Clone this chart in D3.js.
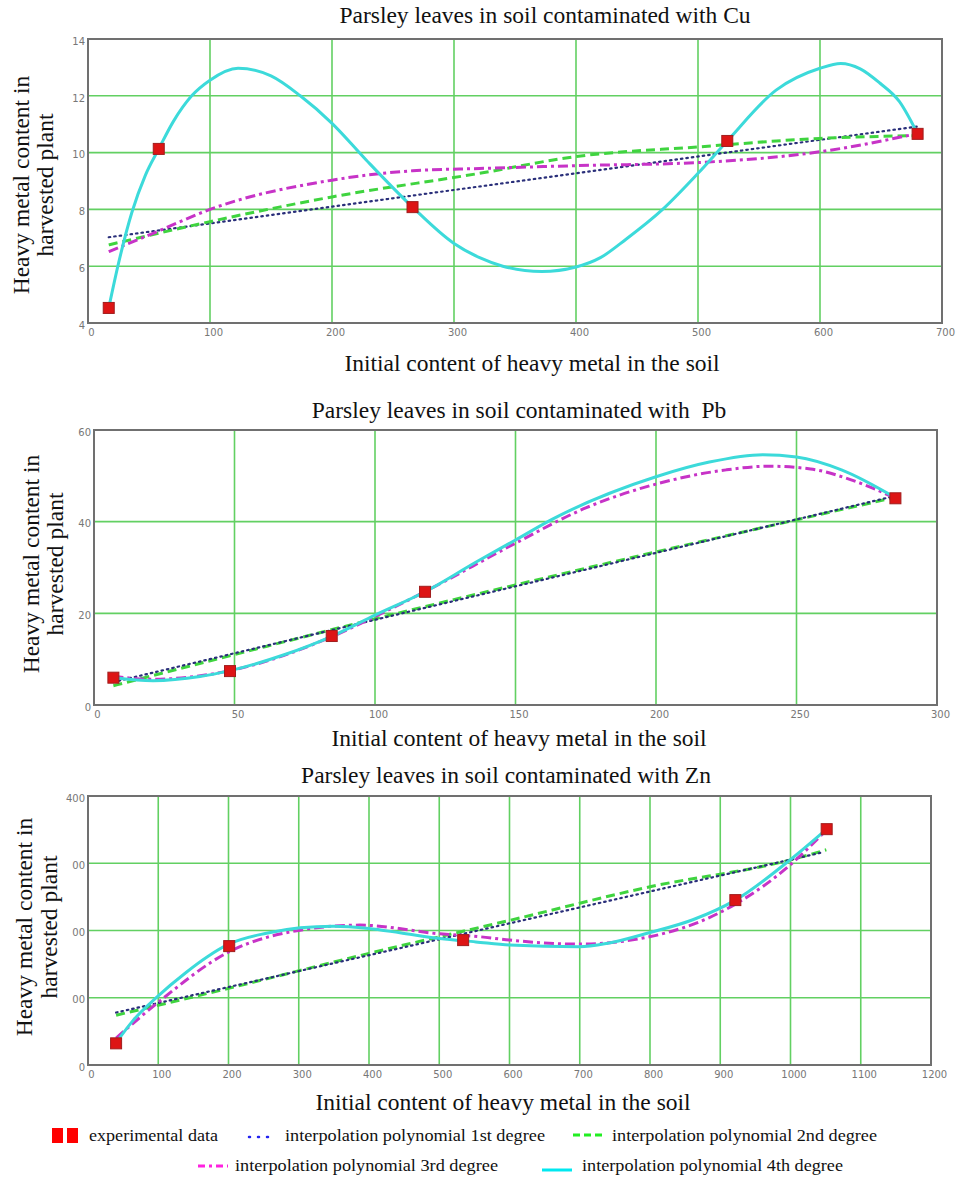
<!DOCTYPE html>
<html>
<head>
<meta charset="utf-8">
<script src="https://cdn.jsdelivr.net/npm/d3@7"></script>
<style>
  html, body { margin: 0; padding: 0; background: #fff; }
  svg { display: block; }
  .serif { font-family: "Liberation Serif", "Times New Roman", serif; fill: #111; }
  .tick text { font-family: "DejaVu Sans", Verdana, sans-serif; font-size: 10px; fill: #777; }
</style>
</head>
<body>
<svg id="chart" width="956" height="1178"></svg>
<script>
// ---------------- DATA ----------------
// Panel 1: Cu
const cuTitle = "Parsley leaves in soil contaminated with Cu";
const cuXTicks = [0, 100, 200, 300, 400, 500, 600, 700];
const cuYTicks = [4, 6, 8, 10, 12, 14];
const cuExpX = [17, 58, 266, 524, 680];
const cuExpY = [4.53, 10.13, 8.08, 10.41, 10.66];
const cuP1X = [17, 680];
const cuP1Y = [7.02, 10.92];
const cuP2X = [17, 100, 200, 321, 400, 500, 600, 680];
const cuP2Y = [6.75, 7.57, 8.44, 9.27, 9.86, 10.2, 10.5, 10.6];
const cuP3X = [17, 59, 100, 200, 266, 321, 400, 500, 600, 680];
const cuP3Y = [6.51, 7.26, 8.0, 9.03, 9.36, 9.44, 9.54, 9.65, 10.03, 10.67];
const cuP4X = [17, 25, 36, 47, 58, 70, 85, 100, 123, 150, 174, 200, 228, 266, 300, 321, 340, 372, 400, 420, 441, 471, 500, 524, 564, 600, 617, 633, 649, 665, 680];
const cuP4Y = [4.53, 6.1, 7.9, 9.2, 10.13, 11.1, 12.0, 12.55, 12.97, 12.7, 12.0, 11.03, 9.74, 8.08, 6.8, 6.3, 6.0, 5.81, 5.97, 6.3, 6.95, 8.0, 9.27, 10.41, 12.2, 12.97, 13.14, 12.95, 12.45, 11.8, 10.66];

// Panel 2: Pb
const pbTitle = "Parsley leaves in soil contaminated with  Pb";
const pbXTicks = [0, 50, 100, 150, 200, 250, 300];
const pbYTicks = [0, 20, 40, 60];
const pbExpX = [6.9, 48.4, 84.6, 117.8, 285.2];
const pbExpY = [5.96, 7.4, 15.05, 24.7, 45.1];
const pbP1X = [6.9, 285];
const pbP1Y = [5.0, 45.6];
const pbP2X = [6.9, 50, 100, 150, 200, 250, 285];
const pbP2Y = [4.2, 11.0, 18.8, 26.2, 33.4, 40.4, 45.3];
const pbP3X = [6.9, 20, 48.4, 85, 100, 118, 150, 175, 200, 225, 240, 255, 270, 285];
const pbP3Y = [6.3, 5.6, 7.5, 15.0, 19.3, 24.8, 35.3, 43.0, 48.2, 51.3, 52.1, 51.5, 49.0, 45.2];
const pbP4X = [6.9, 21, 37.7, 48.4, 67.4, 85, 100, 117.8, 136, 150, 163, 200, 219, 238, 250, 266, 285];
const pbP4Y = [6.0, 5.3, 6.2, 7.5, 10.9, 15.1, 19.6, 24.7, 31.2, 36.0, 40.5, 49.8, 53.0, 54.6, 54.1, 51.3, 45.3];

// Panel 3: Zn
const znTitle = "Parsley leaves in soil contaminated with Zn";
const znXTicks = [0, 100, 200, 300, 400, 500, 600, 700, 800, 900, 1000, 1100, 1200];
const znYTicks = [0, 100, 200, 300, 400];
const znYTickLabels = ["0", "00", "00", "00", "400"];
const znExpX = [40, 201, 534, 921.5, 1051.5];
const znExpY = [32.2, 176.8, 185.7, 245.2, 350.7];
const znP1X = [40, 1045];
const znP1Y = [78, 316];
const znP2X = [40, 200, 400, 600, 800, 1000, 1051];
const znP2Y = [74, 114, 166, 215, 265, 305, 320];
const znP3X = [40, 98, 201, 302, 387, 501, 558, 600, 699, 799, 921.5, 999, 1046];
const znP3Y = [40, 91.6, 168.4, 200.5, 208, 195, 190.7, 185.7, 179.8, 190.6, 239.2, 297, 344];
const znP4X = [40, 64, 98, 140, 170, 201, 254, 302, 349, 400, 444, 501, 552, 600, 699, 740, 800, 861, 921.5, 999, 1051.5];
const znP4Y = [33, 66, 101, 138, 161, 180, 196, 204, 206.5, 203, 196.6, 188, 183, 178.3, 175.8, 181, 197, 216, 245.2, 304.6, 350.7];

const xTitle = "Initial content of heavy metal in the soil";
const yTitle1 = "Heavy metal content in";
const yTitle2 = "harvested plant";

const legendLabels = ["experimental data", "interpolation polynomial 1st degree", "interpolation polynomial 2nd degree",
                      "interpolation polynomial 3rd degree", "interpolation polynomial 4th degree"];

// ---------------- STYLES ----------------
const styles = {
  p1: { stroke: "#2a2f7a", width: 2.2, dash: "1.5,4", cap: "round" },
  p2: { stroke: "#3fd43f", width: 3, dash: "9,5", cap: "butt" },
  p3: { stroke: "#c733c7", width: 3, dash: "10,4,3,4", cap: "butt" },
  p4: { stroke: "#3cdada", width: 3, dash: null, cap: "round" }
};

const zip = (xs, ys) => xs.map((x, i) => [x, ys[i]]);

const svg = d3.select("#chart");
svg.append("rect").attr("width", 956).attr("height", 1178).attr("fill", "#fff");

function panel(cfg) {
  const { left, right, top, bottom } = cfg.box;
  const x = d3.scaleLinear().domain(cfg.xDomain).range([left, right]);
  const y = d3.scaleLinear().domain(cfg.yDomain).range([bottom, top]);
  const g = svg.append("g");

  // grid
  g.append("g").selectAll("line").data(cfg.xTicks.slice(1, -1)).join("line")
    .attr("x1", d => x(d)).attr("x2", d => x(d)).attr("y1", top).attr("y2", bottom)
    .attr("stroke", "#62d062").attr("stroke-width", 1.6);
  g.append("g").selectAll("line").data(cfg.yTicks.slice(1, -1)).join("line")
    .attr("y1", d => y(d)).attr("y2", d => y(d)).attr("x1", left).attr("x2", right)
    .attr("stroke", "#62d062").attr("stroke-width", 1.6);

  // axes tick labels
  const xa = g.append("g").attr("transform", `translate(3,${bottom})`)
    .call(d3.axisBottom(x).tickValues(cfg.xTicks).tickSize(0).tickPadding(6).tickFormat(d3.format("d")));
  xa.select(".domain").remove();
  const ya = g.append("g").attr("transform", `translate(${left - 1},2)`)
    .call(d3.axisLeft(y).tickValues(cfg.yTicks).tickSize(0).tickPadding(2)
      .tickFormat((d, i) => cfg.yLabels ? cfg.yLabels[i] : d3.format("d")(d)));
  ya.select(".domain").remove();

  // curves
  const line = d3.line().x(d => x(d[0])).y(d => y(d[1])).curve(d3.curveMonotoneX);
  cfg.series.forEach(s => {
    const st = styles[s.key];
    g.append("path").datum(s.data).attr("d", line).attr("fill", "none")
      .attr("stroke", st.stroke).attr("stroke-width", st.width)
      .attr("stroke-dasharray", st.dash).attr("stroke-linecap", st.cap).attr("stroke-linejoin", "round");
  });

  // markers
  g.append("g").selectAll("rect").data(cfg.exp).join("rect")
    .attr("x", d => x(d[0]) - 5.5).attr("y", d => y(d[1]) - 5.5)
    .attr("width", 11).attr("height", 11)
    .attr("fill", "#dd1515").attr("stroke", "#a11d1d").attr("stroke-width", 1);

  // frame
  g.append("rect").attr("x", left).attr("y", top).attr("width", right - left).attr("height", bottom - top)
    .attr("fill", "none").attr("stroke", "#707070").attr("stroke-width", 2);

  // titles
  g.append("text").attr("class", "serif").attr("x", cfg.titlePos[0]).attr("y", cfg.titlePos[1])
    .attr("text-anchor", "middle").attr("font-size", 23.5).style("white-space", "pre").text(cfg.title);
  g.append("text").attr("class", "serif").attr("x", cfg.xTitlePos[0]).attr("y", cfg.xTitlePos[1])
    .attr("text-anchor", "middle").attr("font-size", 23.5).text(xTitle);
  g.append("text").attr("class", "serif").attr("transform", `translate(${cfg.yTitleX[0]},${cfg.yTitleY}) rotate(-90)`)
    .attr("text-anchor", "middle").attr("font-size", 23.5).text(yTitle1);
  g.append("text").attr("class", "serif").attr("transform", `translate(${cfg.yTitleX[1]},${cfg.yTitleY}) rotate(-90)`)
    .attr("text-anchor", "middle").attr("font-size", 23.5).text(yTitle2);
}

panel({
  box: { left: 88, right: 942, top: 39, bottom: 323 },
  xDomain: [0, 700], yDomain: [4, 14], xTicks: cuXTicks, yTicks: cuYTicks,
  title: cuTitle, titlePos: [545, 23], xTitlePos: [532, 371], yTitleX: [29, 53], yTitleY: 185,
  exp: zip(cuExpX, cuExpY),
  series: [
    { key: "p1", data: zip(cuP1X, cuP1Y) },
    { key: "p2", data: zip(cuP2X, cuP2Y) },
    { key: "p3", data: zip(cuP3X, cuP3Y) },
    { key: "p4", data: zip(cuP4X, cuP4Y) }
  ]
});

panel({
  box: { left: 94, right: 937, top: 430, bottom: 705 },
  xDomain: [0, 300], yDomain: [0, 60], xTicks: pbXTicks, yTicks: pbYTicks,
  title: pbTitle, titlePos: [519, 418], xTitlePos: [519, 746], yTitleX: [39, 63], yTitleY: 564,
  exp: zip(pbExpX, pbExpY),
  series: [
    { key: "p2", data: zip(pbP2X, pbP2Y) },
    { key: "p1", data: zip(pbP1X, pbP1Y) },
    { key: "p3", data: zip(pbP3X, pbP3Y) },
    { key: "p4", data: zip(pbP4X, pbP4Y) }
  ]
});

panel({
  box: { left: 88, right: 931, top: 796, bottom: 1065 },
  xDomain: [0, 1200], yDomain: [0, 400], xTicks: znXTicks, yTicks: znYTicks, yLabels: znYTickLabels,
  title: znTitle, titlePos: [506, 783], xTitlePos: [503, 1110], yTitleX: [32, 57], yTitleY: 927,
  exp: zip(znExpX, znExpY),
  series: [
    { key: "p2", data: zip(znP2X, znP2Y) },
    { key: "p1", data: zip(znP1X, znP1Y) },
    { key: "p3", data: zip(znP3X, znP3Y) },
    { key: "p4", data: zip(znP4X, znP4Y) }
  ]
});

// ---------------- LEGEND ----------------
const lg = svg.append("g");
lg.append("rect").attr("x", 52).attr("y", 1128).attr("width", 11).attr("height", 15).attr("fill", "#ff0000");
lg.append("rect").attr("x", 67).attr("y", 1128).attr("width", 11).attr("height", 15).attr("fill", "#ff0000");
const legendSamples = [
  { key: "p1", x1: 249, x2: 276, y: 1137, stroke: "#2323f0", width: 2.5, dash: "1,8", cap: "round" },
  { key: "p2", x1: 573, x2: 603, y: 1135, stroke: "#22ee22", width: 3, dash: "7,4", cap: "butt" },
  { key: "p3", x1: 198, x2: 228, y: 1166, stroke: "#ff22e0", width: 3, dash: "7,4,3,4", cap: "butt" },
  { key: "p4", x1: 542, x2: 572, y: 1170, stroke: "#00e8f0", width: 3, dash: null, cap: "butt" }
];
lg.selectAll("line.s").data(legendSamples).join("line").attr("class", "s")
  .attr("x1", d => d.x1).attr("x2", d => d.x2).attr("y1", d => d.y).attr("y2", d => d.y)
  .attr("stroke", d => d.stroke).attr("stroke-width", d => d.width)
  .attr("stroke-dasharray", d => d.dash).attr("stroke-linecap", d => d.cap);
const legendText = [
  { x: 89, y: 1141, w: 129 },
  { x: 285, y: 1141, w: 260 },
  { x: 612, y: 1141, w: 265 },
  { x: 235, y: 1171, w: 263 },
  { x: 582, y: 1171, w: 261 }
];
lg.selectAll("text").data(legendText).join("text").attr("class", "serif")
  .attr("x", d => d.x).attr("y", d => d.y).attr("font-size", 16)
  .attr("textLength", d => d.w).attr("lengthAdjust", "spacingAndGlyphs")
  .text((d, i) => legendLabels[i]);
</script>
</body>
</html>
